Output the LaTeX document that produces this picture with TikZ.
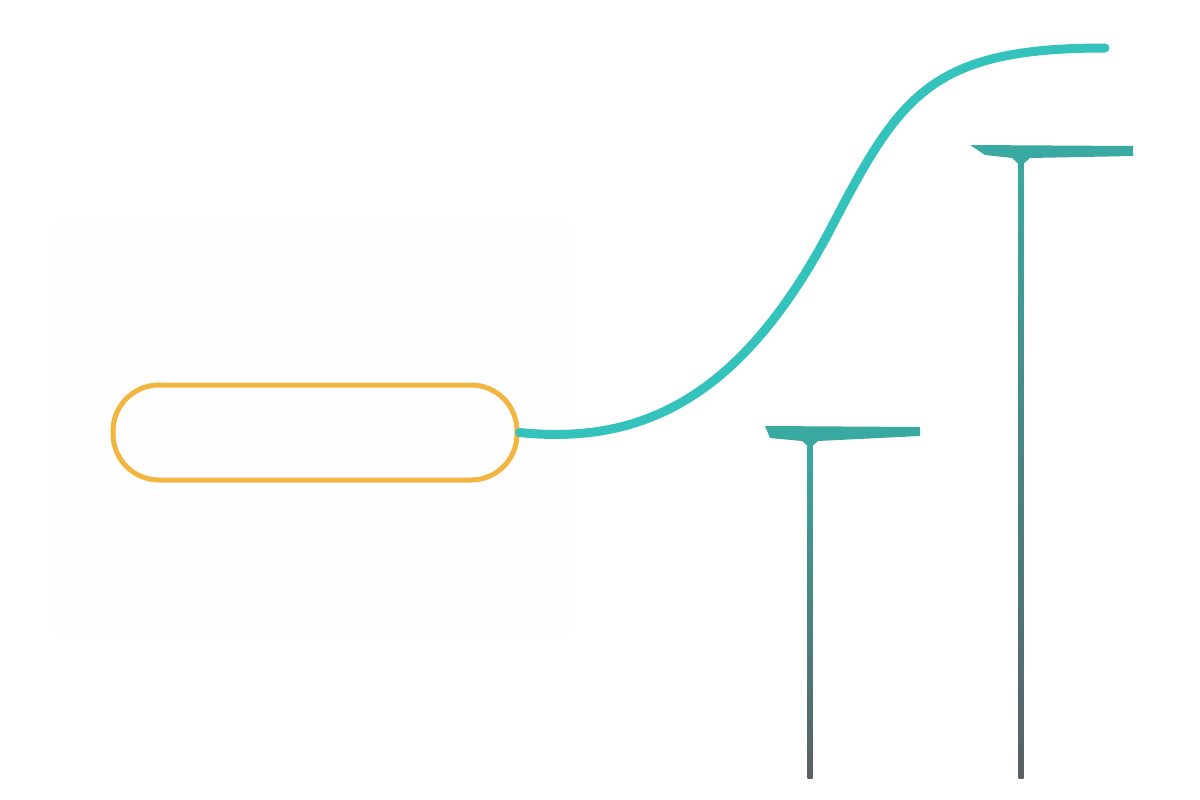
\documentclass[tikz,border=0pt]{standalone}
\begin{document}
\begin{tikzpicture}[x=1pt,y=-1pt,
  pill/.style={draw=orangeC,line width=5pt,rounded corners=46pt},
  curve/.style={draw=tealC,line width=9pt,line cap=round},
  bar/.style={fill=barC},
  stem/.style={top color=barC,bottom color=stemB,draw=none}]
\definecolor{orangeC}{HTML}{F2B540}
\definecolor{tealC}{HTML}{33C2BC}
\definecolor{barC}{HTML}{3AA9A1}
\definecolor{stemB}{HTML}{5A5F63}
\useasboundingbox (0,0) rectangle (1200,800);
\draw[draw=black!2,fill=black!0.5,rounded corners=20pt] (50,220) rectangle (575,635);
\node[pill,minimum width=404pt,minimum height=95pt,inner sep=0pt] (p) at (315,432.5) {};
\coordinate (e) at (1105,48);
\draw[curve] (p.east) .. controls (640,445) and (740,400) .. (830,230)
  .. controls (900,95) and (930,48) .. (e);
% small T
\fill[bar] (765,426) -- (920,427) -- (920,436) -- (818,441) -- (810,448) -- (802,441) -- (770,438) -- cycle;
\shade[stem] (807.5,445) rectangle (812.5,778);
% big T
\fill[bar] (970,145) -- (1133,146) -- (1133,156) -- (1030,158) -- (1021,166) -- (1012,158) -- (985,155) -- cycle;
\shade[stem] (1018.5,160) rectangle (1023.5,778);
\end{tikzpicture}
\end{document}
